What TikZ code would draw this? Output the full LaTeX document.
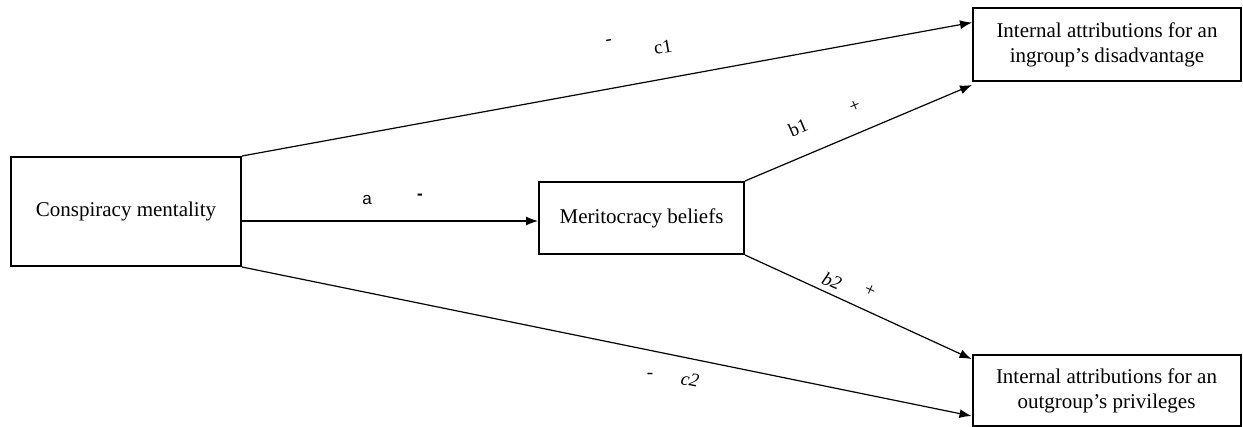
\documentclass[tikz,border=0pt]{standalone}
\usepackage{fontspec}
\setmainfont{Liberation Serif}
\newfontfamily\arialfont{Liberation Sans}
\usetikzlibrary{arrows.meta}
\begin{document}
\begin{tikzpicture}[x=1pt,y=-1pt,
  box/.style={draw,line width=2pt,inner sep=0pt,align=center,font=\fontsize{21}{25}\selectfont},
  conn/.style={line width=1.2pt,-{Latex[length=12pt,width=9pt]}},
  lab/.style={font=\fontsize{19}{22}\selectfont,inner sep=0pt}]
\useasboundingbox (0,0) rectangle (1243,427);
\node[box,minimum width=230pt,minimum height=109pt] (cm) at (126,211.5) {Conspiracy mentality};
\node[box,minimum width=205pt,minimum height=72pt] (mb) at (641.5,218) {Meritocracy beliefs};
\node[box,minimum width=268pt,minimum height=73pt] (ir) at (1107,44.5) {Internal attributions for an\\ingroup’s disadvantage};
\node[box,minimum width=268pt,minimum height=71pt] (or) at (1106.5,390.5) {Internal attributions for an\\outgroup’s privileges};
\coordinate (astart) at ([yshift=-9.5pt]cm.east);
\coordinate (c1end) at ([yshift=22pt]ir.west);
\coordinate (b1end) at ([yshift=-3pt]ir.south west);
\coordinate (b2end) at ([yshift=-5pt]or.north west);
\coordinate (c2end) at ([yshift=11pt]or.south west);
\draw[conn] (cm.north east) -- (c1end);
\draw[conn] (astart) -- (astart -| mb.west);
\draw[conn] (mb.north east) -- (b1end);
\draw[conn] (mb.south east) -- (b2end);
\draw[conn] (cm.south east) -- (c2end);
\node[lab,rotate=10] (c1m) at (609,42) {-};
\node[lab,rotate=10] (c1l) at (663,47) {c1};
\node[lab,font=\arialfont\fontsize{17}{20}\selectfont] (al) at (367,200) {a};
\node[lab,font=\arialfont\bfseries\fontsize{17}{20}\selectfont] (am) at (420,197) {-};
\node[lab,rotate=23] (b1l) at (798,128) {b1};
\node[lab,rotate=23] (b1p) at (855,106) {+};
\node[lab,rotate=-24,font=\itshape\fontsize{19}{22}\selectfont] (b2l) at (832,281) {b2};
\node[lab,rotate=-24] (b2p) at (870,291) {+};
\node[lab] (c2m) at (650,376) {-};
\node[lab,rotate=-11,font=\itshape\fontsize{19}{22}\selectfont] (c2l) at (690,380) {c2};
\end{tikzpicture}
\end{document}
